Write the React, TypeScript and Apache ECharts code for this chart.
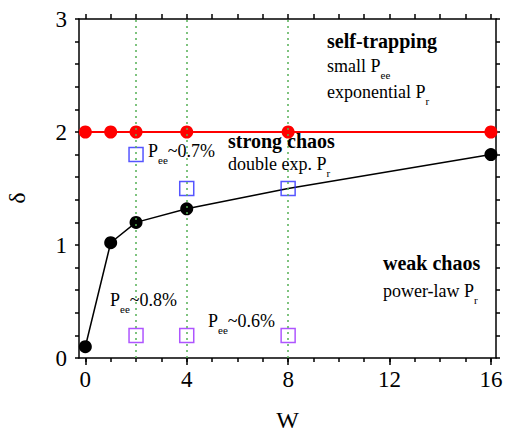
import React, { useEffect, useRef } from "react";
import * as echarts from "echarts";

const W_VALUES = [0, 1, 2, 4, 8, 16];
const SELF_TRAP_DELTA = [2, 2, 2, 2, 2, 2];
const DELTA_VALUES = [0.1, 1.02, 1.2, 1.32, 1.5, 1.8];
const DELTA_HIDDEN_MARK_W = [8];
const BLUE_W = [2, 4, 8];
const BLUE_DELTA = [1.8, 1.5, 1.5];
const PURPLE_W = [2, 4, 8];
const PURPLE_DELTA = [0.2, 0.2, 0.2];
const GUIDE_W = [2, 4, 8];
const X_TICK_LABELS = [0, 4, 8, 12, 16];
const X_MINOR_TICKS = Array.from({ length: 17 }, (_, i) => i);

const FONT = "Liberation Serif";

const pairs = (xs: number[], ys: number[]) => xs.map((x, i) => [x, ys[i]]);

export default function App() {
  const ref = useRef<HTMLDivElement>(null);
  useEffect(() => {
    if (!ref.current) return;
    const chart = echarts.init(ref.current, undefined, { renderer: "svg" });
    const axisLine = { show: true, onZero: false, lineStyle: { color: "#000", width: 1.5 } };
    const sub = { fontSize: 11, fontFamily: FONT, color: "#000", padding: [18, 0, 0, 0] };
    const main = { fontSize: 18, fontFamily: FONT, color: "#000" };
    const bold = { fontSize: 20, fontFamily: FONT, color: "#000", fontWeight: "bold" };
    const txt = (x: number, y: number, text: string) => ({
      type: "text",
      x,
      y,
      z: 100,
      style: {
        text,
        align: "left",
        verticalAlign: "middle",
        fontFamily: FONT,
        fontSize: 18,
        fill: "#000",
        rich: { a: main, s: sub, b: bold },
      },
    });
    chart.setOption({
      animation: false,
      backgroundColor: "#fff",
      textStyle: { fontFamily: FONT },
      grid: { left: 79, right: 9, top: 19, bottom: 74, containLabel: false, outerBoundsMode: "none" },
      xAxis: [
        {
          type: "value",
          position: "bottom",
          min: -0.25,
          max: 16.2,
          name: "W",
          nameLocation: "middle",
          nameGap: 50,
          nameTextStyle: { fontFamily: FONT, fontSize: 24, color: "#000" },
          axisLine,
          axisTick: { show: true, customValues: X_TICK_LABELS, length: 7, lineStyle: { color: "#000", width: 1.5 } },
          axisLabel: { show: true, customValues: X_TICK_LABELS, margin: 10, fontFamily: FONT, fontSize: 23, color: "#000" },
          splitLine: { show: false },
        },
        {
          type: "value",
          position: "bottom",
          min: -0.25,
          max: 16.2,
          axisLine: { show: false },
          axisTick: { show: true, customValues: X_MINOR_TICKS, length: 4, lineStyle: { color: "#000", width: 1.5 } },
          axisLabel: { show: false },
          splitLine: { show: false },
        },
        {
          type: "value",
          position: "top",
          min: -0.25,
          max: 16.2,
          axisLine,
          axisTick: { show: true, customValues: X_MINOR_TICKS, length: 5, lineStyle: { color: "#000", width: 1.5 } },
          axisLabel: { show: false },
          splitLine: { show: false },
        },
      ],
      yAxis: [
        {
          type: "value",
          position: "left",
          min: 0,
          max: 3,
          interval: 1,
          axisLine,
          axisTick: { show: true, length: 4, lineStyle: { color: "#000", width: 1.5 } },
          minorTick: { show: true, splitNumber: 5, length: 4, lineStyle: { color: "#000", width: 1.5 } },
          axisLabel: { margin: 12, fontFamily: FONT, fontSize: 23, color: "#000" },
          splitLine: { show: false },
        },
        {
          type: "value",
          position: "right",
          min: 0,
          max: 3,
          interval: 1,
          axisLine,
          axisTick: { show: true, length: 4, lineStyle: { color: "#000", width: 1.5 } },
          minorTick: { show: true, splitNumber: 5, length: 4, lineStyle: { color: "#000", width: 1.5 } },
          axisLabel: { show: false },
          splitLine: { show: false },
        },
      ],
      series: [
        {
          type: "line",
          data: [],
          z: 1,
          markLine: {
            silent: true,
            symbol: "none",
            label: { show: false },
            lineStyle: { type: [2, 4], color: "#55b055", width: 1.5 },
            data: GUIDE_W.map((w) => ({ xAxis: w })),
          },
        },
        {
          type: "line",
          data: pairs(W_VALUES, SELF_TRAP_DELTA),
          symbol: "circle",
          symbolSize: 13,
          showSymbol: true,
          lineStyle: { color: "#ff0000", width: 2 },
          itemStyle: { color: "#ff0000" },
          z: 3,
          clip: false,
        },
        {
          type: "line",
          data: pairs(W_VALUES, DELTA_VALUES).map((p) =>
            DELTA_HIDDEN_MARK_W.includes(p[0]) ? { value: p, symbol: "none" } : { value: p }
          ),
          symbol: "circle",
          symbolSize: 13,
          showSymbol: true,
          lineStyle: { color: "#000", width: 1.5 },
          itemStyle: { color: "#000" },
          z: 3,
          clip: false,
        },
        {
          type: "scatter",
          data: pairs(BLUE_W, BLUE_DELTA),
          symbol: "rect",
          symbolSize: 14,
          itemStyle: { color: "rgba(0,0,0,0)", borderColor: "#2a2aff", borderWidth: 1.5 },
          z: 4,
        },
        {
          type: "scatter",
          data: pairs(PURPLE_W, PURPLE_DELTA),
          symbol: "rect",
          symbolSize: 14,
          itemStyle: { color: "rgba(0,0,0,0)", borderColor: "#9a2aff", borderWidth: 1.5 },
          z: 4,
        },
      ],
      graphic: [
        {
          type: "text",
          x: 17,
          y: 198,
          rotation: Math.PI / 2,
          style: { text: "δ", align: "center", verticalAlign: "middle", fontFamily: FONT, fontSize: 24, fill: "#000" },
        },
        txt(327, 41, "{b|self-trapping}"),
        txt(327, 66, "{a|small P}{s|ee}"),
        txt(327, 92, "{a|exponential P}{s|r}"),
        txt(228, 141, "{b|strong chaos}"),
        txt(228, 164, "{a|double exp. P}{s|r}"),
        txt(148, 151, "{a|P}{s|ee}{a|~0.7%}"),
        txt(383, 263, "{b|weak chaos}"),
        txt(383, 291, "{a|power-law P}{s|r}"),
        txt(110, 300, "{a|P}{s|ee}{a|~0.8%}"),
        txt(208, 321, "{a|P}{s|ee}{a|~0.6%}"),
      ],
    });
    return () => chart.dispose();
  }, []);
  return <div ref={ref} style={{ position: "absolute", left: 0, top: 0, width: 505, height: 432 }} />;
}
